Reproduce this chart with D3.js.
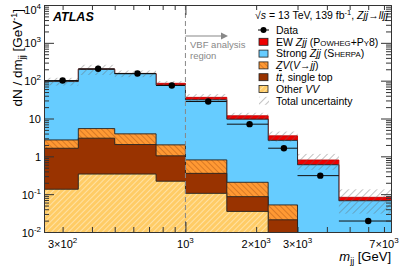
<!DOCTYPE html>
<html>
<head>
<meta charset="utf-8">
<script src="https://cdn.jsdelivr.net/npm/d3@7"></script>
<style>
body { margin: 0; background: #fff; }
text { font-family: "Liberation Sans", Arial, sans-serif; }
</style>
</head>
<body>
<div id="chart-area"></div>
<script>
// bin edges in m_jj [GeV]
var edges = [250, 350, 500, 750, 1000, 1500, 2250, 3000, 4500, 7500];

// per-process yields per bin (dN/dm_jj)
var otherVV = [0.135, 0.34, 0.34, 0.22, 0.105, 0.035, 0, 0, 0];
var ttbar   = [1.5, 2.68, 1.71, 0.81, 0.25, 0.051, 0.021, 0, 0];
var zv      = [1.08, 2.4, 1.88, 0.98, 0.45, 0.12, 0.031, 0, 0];
var strong  = [92, 193, 148, 74, 30.4, 9.4, 2.59, 0.6, 0.067];
var ew      = [2, 4, 3, 9, 5.0, 2.2, 0.84, 0.2, 0.0155];
var relUnc  = [0.23, 0.3, 0.2, 0.15, 0.22, 0.2, 0.3, 0.45, 0.63];
var data    = [101, 206, 155, 74.5, 28.1, 7.08, 1.64, 0.309, 0.0195];

var yTickVals = [0.01, 0.1, 1, 10, 100, 1000, 10000];
var yTickLabels = ["10^-2", "10^-1", "1", "10", "10^2", "10^3", "10^4"];
var xTickVals = [300, 1000, 2000, 3000, 7000];
var xTickLabels = ["3×10^2", "10^3", "2×10^3", "3×10^3", "7×10^3"];

var W = 399, H = 270;
var margin = {left: 44, right: 8, top: 5, bottom: 38};
var x0 = margin.left, x1 = W - margin.right, yTop = margin.top, yBot = H - margin.bottom;

var svg = d3.select("#chart-area").append("svg")
    .attr("width", W)
    .attr("height", H);

var defs = svg.append("defs");

function hatch(id, bg, fg, angle, gap, sw) {
    var p = defs.append("pattern")
        .attr("id", id)
        .attr("patternUnits", "userSpaceOnUse")
        .attr("width", gap).attr("height", gap)
        .attr("patternTransform", "rotate(" + angle + ")");
    if (bg) p.append("rect").attr("width", gap).attr("height", gap).attr("fill", bg);
    p.append("line")
        .attr("x1", 0).attr("y1", 0).attr("x2", 0).attr("y2", gap)
        .attr("stroke", fg).attr("stroke-width", sw);
}
hatch("h-zv", "#ff9933", "#a04a10", -45, 4, 0.8);
hatch("h-vv", "#ffcc66", "#fff3d6", 45, 4, 1.1);
hatch("h-unc", null, "#666", 45, 5, 0.8);

defs.append("clipPath").attr("id", "clip")
    .append("rect").attr("x", x0).attr("y", yTop).attr("width", x1 - x0).attr("height", yBot - yTop);

var x = d3.scaleLog().domain([250, 7500]).range([x0, x1]);
var y = d3.scaleLog().domain([0.01, 10000]).range([yBot, yTop]);

var plot = svg.append("g").attr("clip-path", "url(#clip)");

// cumulative stack
var layers = [otherVV, ttbar, zv, strong, ew];
var cum = [];
layers.forEach(function(l, k) {
    cum.push(l.map(function(v, i) { return v + (k > 0 ? cum[k - 1][i] : 0); }));
});

function yv(v) { return y(Math.max(v, 0.001)); }

function stepPts(vals) {
    var pts = vals.map(function(v, i) { return [edges[i], v]; });
    pts.push([edges[edges.length - 1], vals[vals.length - 1]]);
    return pts;
}

var area = d3.area()
    .curve(d3.curveStepAfter)
    .x(function(d) { return x(d[0]); })
    .y0(yBot + 2)
    .y1(function(d) { return yv(d[1]); });

var line = d3.line()
    .curve(d3.curveStepAfter)
    .x(function(d) { return x(d[0]); })
    .y(function(d) { return yv(d[1]); });

var fills = ["url(#h-vv)", "#993300", "url(#h-zv)", "#66ccff", "#ee0000"];
var strokes = ["#222", "#222", "#222", "#222", "#cc0000"];

// draw totals first, smaller stacks on top (like THStack)
for (var k = layers.length - 1; k >= 0; k--) {
    var pts = stepPts(cum[k]);
    plot.append("path").attr("d", area(pts)).attr("fill", fills[k]);
    plot.append("path").attr("d", line(pts))
        .attr("fill", "none").attr("stroke", strokes[k]).attr("stroke-width", 0.9);
}

// uncertainty band
var total = cum[cum.length - 1];
plot.selectAll(".unc")
    .data(total)
    .enter().append("rect")
    .attr("class", "unc")
    .attr("x", function(d, i) { return x(edges[i]); })
    .attr("width", function(d, i) { return x(edges[i + 1]) - x(edges[i]); })
    .attr("y", function(d, i) { return y(d * (1 + relUnc[i])); })
    .attr("height", function(d, i) { return y(d * (1 - relUnc[i])) - y(d * (1 + relUnc[i])); })
    .attr("fill", "url(#h-unc)");

// VBF line
svg.append("line")
    .attr("x1", x(1000)).attr("x2", x(1000))
    .attr("y1", yTop).attr("y2", yBot)
    .attr("stroke", "#888").attr("stroke-width", 1)
    .attr("stroke-dasharray", "5,3");

// data points with horizontal bin-width bars
var centres = data.map(function(d, i) { return (edges[i] + edges[i + 1]) / 2; });
plot.selectAll(".xerr")
    .data(data)
    .enter().append("line")
    .attr("x1", function(d, i) { return x(edges[i]); })
    .attr("x2", function(d, i) { return x(edges[i + 1]); })
    .attr("y1", function(d) { return y(d); })
    .attr("y2", function(d) { return y(d); })
    .attr("stroke", "#111").attr("stroke-width", 1);
plot.selectAll(".pt")
    .data(data)
    .enter().append("circle")
    .attr("cx", function(d, i) { return x(centres[i]); })
    .attr("cy", function(d) { return y(d); })
    .attr("r", 3.2)
    .attr("fill", "#000");

// frame + axes
function supLabel(sel, s, big, small) {
    var parts = s.split("^");
    sel.text(null);
    sel.append("tspan").attr("font-size", big).text(parts[0]);
    if (parts[1]) sel.append("tspan").attr("font-size", small).attr("dy", -5).text(parts[1]);
}

var yMinor = [];
for (var e = -2; e < 4; e++) for (var m = 2; m < 10; m++) yMinor.push(m * Math.pow(10, e));
var xMinor = [300, 400, 500, 600, 700, 800, 900, 2000, 3000, 4000, 5000, 6000, 7000];

function styleAxis(g) {
    g.select(".domain").attr("stroke", "#333");
    g.selectAll(".tick line").attr("stroke", "#333");
}

svg.append("g").attr("transform", "translate(" + x0 + ",0)")
    .call(d3.axisLeft(y).tickValues(yMinor).tickSize(-5).tickFormat("").tickSizeOuter(0)).call(styleAxis);
svg.append("g").attr("transform", "translate(" + x1 + ",0)")
    .call(d3.axisRight(y).tickValues(yMinor).tickSize(-5).tickFormat("").tickSizeOuter(0)).call(styleAxis);
svg.append("g").attr("transform", "translate(" + x1 + ",0)")
    .call(d3.axisRight(y).tickValues(yTickVals).tickSize(-10).tickFormat("").tickSizeOuter(0)).call(styleAxis);

var yAxis = svg.append("g").attr("transform", "translate(" + x0 + ",0)")
    .call(d3.axisLeft(y).tickValues(yTickVals).tickSize(-10).tickPadding(3).tickSizeOuter(0)
        .tickFormat(function(d, i) { return yTickLabels[i]; }))
    .call(styleAxis);
yAxis.selectAll(".tick text")
    .attr("fill", "#000")
    .attr("dy", function(d) { return d === 10000 ? "0.8em" : "0.4em"; })
    .each(function(d, i) { supLabel(d3.select(this), yTickLabels[i], 11, 8); });

svg.append("g").attr("transform", "translate(0," + yTop + ")")
    .call(d3.axisTop(x).tickValues(xMinor).tickSize(-5).tickFormat("").tickSizeOuter(0)).call(styleAxis);
svg.append("g").attr("transform", "translate(0," + yTop + ")")
    .call(d3.axisTop(x).tickValues([1000]).tickSize(-10).tickFormat("").tickSizeOuter(0)).call(styleAxis);
svg.append("g").attr("transform", "translate(0," + yBot + ")")
    .call(d3.axisBottom(x).tickValues(xMinor).tickSize(-5).tickFormat("").tickSizeOuter(0)).call(styleAxis);
svg.append("g").attr("transform", "translate(0," + yBot + ")")
    .call(d3.axisBottom(x).tickValues([1000]).tickSize(-10).tickFormat("").tickSizeOuter(0)).call(styleAxis);

xTickVals.forEach(function(v, i) {
    var t = svg.append("text")
        .attr("x", x(v)).attr("y", yBot + 16)
        .attr("text-anchor", "middle")
        .attr("fill", "#000");
    supLabel(t, xTickLabels[i], 11, 8);
});

// axis titles
var xt = svg.append("text")
    .attr("x", x1).attr("y", yBot + 29)
    .attr("text-anchor", "end").attr("font-size", 13);
xt.append("tspan").attr("font-style", "italic").text("m");
xt.append("tspan").attr("font-size", 9).attr("dy", 3).text("jj");
xt.append("tspan").attr("dy", -3).text("  [GeV]");

var yt = svg.append("text")
    .attr("transform", "translate(22,9) rotate(-90)")
    .attr("text-anchor", "end").attr("font-size", 13.5);
yt.append("tspan").text("dN / dm");
yt.append("tspan").attr("font-size", 9).attr("dy", 3).text("jj");
yt.append("tspan").attr("dy", -3).text("  [GeV");
yt.append("tspan").attr("font-size", 9).attr("dy", -5).text("-1");
yt.append("tspan").attr("dy", 5).text("]");

// ATLAS label
svg.append("text")
    .attr("x", 53).attr("y", 21)
    .attr("font-size", 12.5).attr("font-weight", "bold").attr("font-style", "italic")
    .text("ATLAS");

// VBF region note
var vbf = svg.append("g").attr("fill", "#888").attr("font-size", 9.5);
vbf.append("text").attr("x", 190).attr("y", 48).text("VBF analysis");
vbf.append("text").attr("x", 190).attr("y", 59).text("region");
svg.append("line")
    .attr("x1", x(1000)).attr("x2", 223).attr("y1", 36).attr("y2", 36)
    .attr("stroke", "#888").attr("stroke-width", 1.2);
svg.append("path")
    .attr("d", "M221,32.5 L228,36 L221,39.5 Z")
    .attr("fill", "#888");

// header
var hd = svg.append("text")
    .attr("x", 388).attr("y", 19)
    .attr("text-anchor", "end").attr("font-size", 10.5);
hd.append("tspan").text("√");
hd.append("tspan").attr("font-style", "italic").text("s");
hd.append("tspan").text(" = 13 TeV, 139 fb");
hd.append("tspan").attr("font-size", 7.5).attr("dy", -4).text("-1");
hd.append("tspan").attr("dy", 4).text(", ");
hd.append("tspan").attr("font-style", "italic").text("Zjj");
hd.append("tspan").text("→");
hd.append("tspan").attr("font-style", "italic").text("lljj");

// legend
var lx = 259, ly0 = 30, dy = 11.8;
var legend = svg.append("g").attr("font-size", 10.5);
var entries = [
    {kind: "data", parts: [["Data"]]},
    {kind: "box", fill: "#ee0000", parts: [["EW "], ["Zjj", "i"], [" (P"], ["OWHEG", "s"], ["+P"], ["Y", "s"], ["8)"]]},
    {kind: "box", fill: "#66ccff", parts: [["Strong "], ["Zjj", "i"], [" (S"], ["HERPA", "s"], [")"]]},
    {kind: "box", fill: "url(#h-zv)", parts: [["ZV", "i"], ["("], ["V", "i"], ["→"], ["jj", "i"], [")"]]},
    {kind: "box", fill: "#993300", parts: [["t", "i"], ["t", "o"], [", single top"]]},
    {kind: "box", fill: "url(#h-vv)", parts: [["Other "], ["VV", "i"]]},
    {kind: "unc", parts: [["Total uncertainty"]]}
];
entries.forEach(function(en, i) {
    var row = legend.append("g").attr("transform", "translate(0," + (ly0 + i * dy) + ")");
    if (en.kind === "data") {
        row.append("line").attr("x1", lx - 1).attr("x2", lx + 10).attr("stroke", "#000");
        row.append("circle").attr("cx", lx + 4.5).attr("r", 3).attr("fill", "#000");
    } else if (en.kind === "box") {
        row.append("rect").attr("x", lx).attr("y", -3.5).attr("width", 9).attr("height", 7)
            .attr("fill", en.fill).attr("stroke", "#222").attr("stroke-width", 0.8);
    } else {
        row.append("rect").attr("x", lx).attr("y", -4).attr("width", 10).attr("height", 8)
            .attr("fill", "url(#h-unc)");
    }
    var t = row.append("text").attr("x", lx + 17).attr("y", 3.8);
    en.parts.forEach(function(p) {
        var s = t.append("tspan").text(p[0]);
        if (p[1] === "i") s.attr("font-style", "italic");
        if (p[1] === "s") s.attr("font-size", 7.8);
        if (p[1] === "o") s.attr("font-style", "italic").style("text-decoration", "overline");
    });
});
</script>
</body>
</html>
